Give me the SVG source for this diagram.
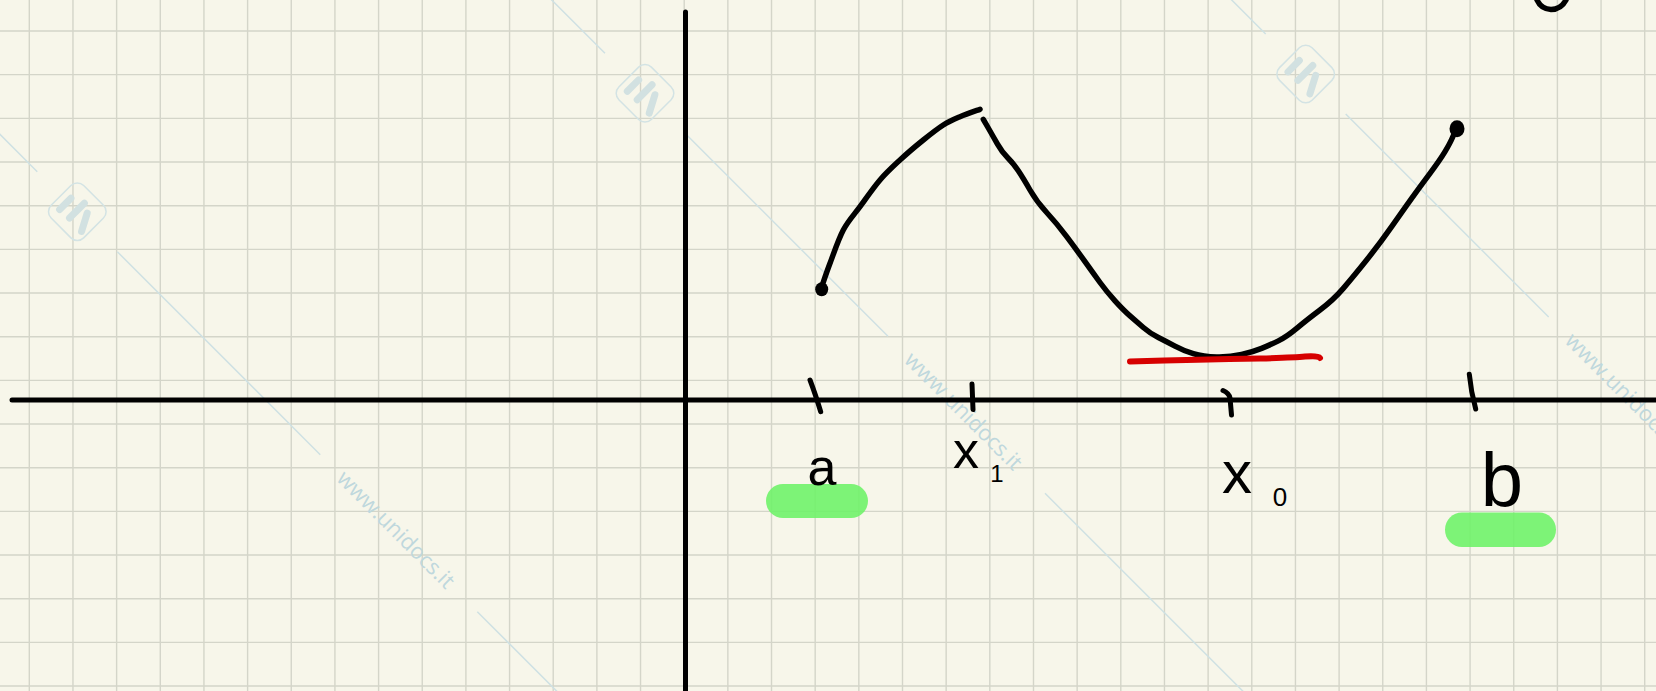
<svg xmlns="http://www.w3.org/2000/svg" xmlns:xlink="http://www.w3.org/1999/xlink" width="1656" height="691" viewBox="0 0 1656 691">
<style>
.grid{fill:none;stroke:#d4d5c9;stroke-width:1.4}
.wml{fill:none;stroke:#cfe1e3;stroke-width:1.5}
.wmt{font-family:"Open Sans","Liberation Sans",sans-serif;font-size:22px;fill:#bfd8dd}
.ink{fill:none;stroke:#000;stroke-linecap:round;stroke-linejoin:round}
.axis{stroke-width:5}
.crv{stroke-width:5.5}
.tick{stroke-width:5}
.hl{fill:#6cf266;fill-opacity:0.88}
.lbl{font-family:"Liberation Sans","DejaVu Sans",sans-serif;fill:#000}
</style>
<defs>
<g id="wm-logo">
<rect x="-23" y="-23" width="46" height="46" rx="9" fill="none" stroke="#d3e3e4" stroke-width="1.5"/>
<g stroke="#d2e1e1" stroke-width="7" stroke-linecap="round" fill="none">
<path d="M-14,-5V11"/>
<path d="M-1,-11V10"/>
<path d="M8,-6L17,11"/>
</g>
</g>
<g id="wm-diag">
<path class="wml" d="M-343.6,0H-56.6M56.6,0H343.6M565.7,0H852.8"/>
<use xlink:href="#wm-logo"/>
<text class="wmt" x="372" y="7" textLength="156" lengthAdjust="spacingAndGlyphs">www.unidocs.it</text>
</g>
</defs>
<rect id="paper" x="0" y="0" width="1656" height="691" fill="#f7f6ea"/>
<path id="grid" class="grid" d="M29.3 0V691M72.96 0V691M116.62 0V691M160.28 0V691M203.94 0V691M247.6 0V691M291.26 0V691M334.92 0V691M378.58 0V691M422.24 0V691M465.9 0V691M509.56 0V691M553.22 0V691M596.88 0V691M640.54 0V691M684.2 0V691M727.86 0V691M771.52 0V691M815.18 0V691M858.84 0V691M902.5 0V691M946.16 0V691M989.82 0V691M1033.48 0V691M1077.14 0V691M1120.8 0V691M1164.46 0V691M1208.12 0V691M1251.78 0V691M1295.44 0V691M1339.1 0V691M1382.76 0V691M1426.42 0V691M1470.08 0V691M1513.74 0V691M1557.4 0V691M1601.06 0V691M1644.72 0V691M0 31H1656M0 74.67H1656M0 118.34H1656M0 162.01H1656M0 205.68H1656M0 249.35H1656M0 293.02H1656M0 336.69H1656M0 380.36H1656M0 424.03H1656M0 467.7H1656M0 511.37H1656M0 555.04H1656M0 598.71H1656M0 642.38H1656M0 686.05H1656"/>
<g id="watermark">
<use xlink:href="#wm-diag" transform="translate(77.3,211.7) rotate(45)"/>
<use xlink:href="#wm-diag" transform="translate(645,93.3) rotate(45)"/>
<use xlink:href="#wm-diag" transform="translate(1305.7,74) rotate(45)"/>
</g>
<g id="highlights">
<rect class="hl" x="766" y="484" width="102" height="34" rx="17"/>
<rect class="hl" x="1445" y="512.5" width="111" height="34.5" rx="17"/>
</g>
<g id="axes">
<path class="ink axis" d="M12,400H1656"/>
<path class="ink axis" d="M685.5,12V691"/>
</g>
<g id="ticks">
<path class="ink tick" d="M810,380Q815,393 820.7,411.7"/>
<path class="ink tick" d="M972,384L973,409.5"/>
<path class="ink tick" d="M1223,390.5Q1229,393 1230,398L1231.5,415"/>
<path class="ink tick" d="M1469.3,374.3Q1471,392 1475.7,409"/>
</g>
<g id="function-curve">
<path class="ink crv" d="M821.7,286.7 C823.1,282.8 826.4,272.8 830,263.3 C833.6,253.9 838.3,239.4 843.3,230 C848.3,220.6 853.9,215 860,206.7 C866.1,198.4 873.3,187.8 880,180 C886.7,172.2 892.8,166.7 900,160 C907.2,153.3 916.1,145.8 923.3,140 C930.5,134.2 937.2,128.9 943.3,125 C949.4,121.1 953.9,119.3 960,116.7 C966.1,114.1 976.7,110.5 980,109.3"/>
<ellipse cx="821.7" cy="289.3" rx="6.5" ry="7" fill="#000"/>
<path class="ink crv" d="M983.3,119.3 L988.3,128 Q993.3,136.7 997.5,144.2 Q1001.7,151.7 1007.5,157.5 Q1013.3,163.3 1018.3,170.8 Q1023.3,178.3 1030,190 Q1036.7,201.7 1046.7,212.5 Q1056.7,223.3 1066.7,236.65 Q1076.7,250 1085,261.65 Q1093.3,273.3 1100,282.5 Q1106.7,291.7 1115,300.85 Q1123.3,310 1130,315.85 Q1136.7,321.7 1143.35,327.5 Q1150,333.3 1158.35,337.5 Q1166.7,341.7 1175,346.2 Q1183.3,350.7 1193.3,353.7 Q1203.3,356.7 1216.65,357 Q1230,357.3 1241.65,354.5 Q1253.3,351.7 1261.65,348.35 Q1270,345 1278.35,340.85 Q1286.7,336.7 1296.7,328.35 Q1306.7,320 1320,310 Q1333.3,300 1343.3,288.35 Q1353.3,276.7 1366.65,260 Q1380,243.3 1391.65,226.65 Q1403.3,210 1411.65,198.35 Q1420,186.7 1430,173.35 Q1440,160 1445,151.65 Q1450,143.3 1452.5,137.5 L1455,131.7"/>
<ellipse cx="1457" cy="128.8" rx="7.5" ry="8.5" fill="#000"/>
</g>
<path id="min-line" d="M1130,361.5Q1200,359.5 1260,358.5Q1295,357.5 1305,356.5Q1318,355.5 1320,358" fill="none" stroke="#d60000" stroke-width="6" stroke-linecap="round"/>
<path id="top-fragment" class="ink crv" d="M1537,0Q1541,9 1551,9.5Q1561,9.5 1566,0"/>
<g id="labels">
<text class="lbl" x="822" y="485" font-size="52" text-anchor="middle">a</text>
<text class="lbl" x="966" y="468" font-size="52" text-anchor="middle">x</text>
<text class="lbl" x="997" y="482" font-size="24" text-anchor="middle">1</text>
<text class="lbl" x="1237" y="493" font-size="60" text-anchor="middle">x</text>
<text class="lbl" x="1280" y="506" font-size="26" text-anchor="middle">0</text>
<text class="lbl" x="1502" y="506" font-size="76" text-anchor="middle">b</text>
</g>
</svg>
